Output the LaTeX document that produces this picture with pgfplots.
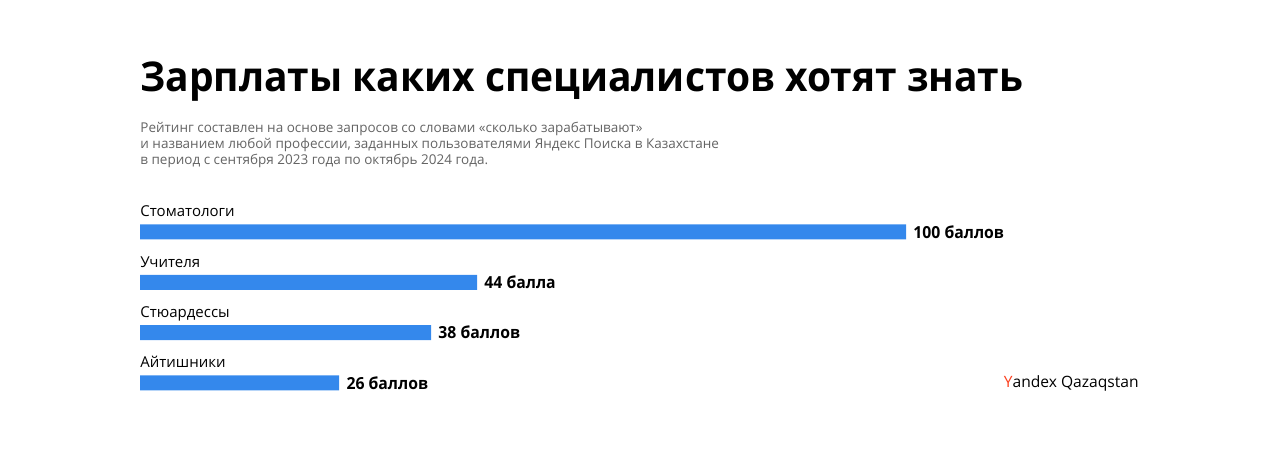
\documentclass[border=0pt]{standalone}
\usepackage{pgfplots}
\pgfplotsset{compat=1.18}
\usepackage{fontspec}
\setmainfont{Open Sans}
\definecolor{barblue}{RGB}{52,136,236}
\definecolor{subgray}{RGB}{100,100,100}
\definecolor{yred}{RGB}{252,63,29}
\begin{document}
\begin{tikzpicture}
\path[use as bounding box] (0,0) rectangle (640pt,-225.5pt);
\node[anchor=base west, inner sep=0, font=\fontsize{20.5}{24}\selectfont\bfseries] at (70pt,-45.5pt) {\scalebox{0.95}[1]{Зарплаты каких специалистов хотят знать}};
\node[anchor=base west, inner sep=0, font=\fontsize{6.75}{8}\selectfont, text=subgray] at (70pt,-66.3pt) {Рейтинг составлен на основе запросов со словами «сколько зарабатывают»};
\node[anchor=base west, inner sep=0, font=\fontsize{6.75}{8}\selectfont, text=subgray] at (70pt,-74.2pt) {и названием любой профессии, заданных пользователями Яндекс Поиска в Казахстане};
\node[anchor=base west, inner sep=0, font=\fontsize{6.75}{8}\selectfont, text=subgray] at (70pt,-82.1pt) {в период с сентября 2023 года по октябрь 2024 года.};
\node[anchor=base east, inner sep=0, font=\fontsize{7.8}{9}\selectfont] at (569.5pt,-193.5pt) {{\color{yred}Y}andex Qazaqstan};
\begin{axis}[
  at={(70pt,-103.4pt)}, anchor=north west,
  scale only axis, width=383pt, height=100.67pt,
  xmin=0, xmax=100, ymin=0.5, ymax=4.5, y dir=reverse,
  axis lines=none, clip=false,
  xbar, bar width=7.5pt, bar shift=0pt,
  nodes near coords={\scalebox{0.95}[1]{\pgfplotspointmeta}}, point meta=explicit symbolic,
  nodes near coords style={anchor=west, font=\fontsize{8.3}{10}\selectfont\bfseries, text=black, inner sep=0pt, xshift=3.5pt},
]
\addplot[fill=barblue, draw=none] coordinates {(100,1)[100 баллов] (44,2)[44 балла] (38,3)[38 баллов] (26,4)[26 баллов]};
\node[anchor=base west, inner sep=0, font=\fontsize{7.5}{9}\selectfont, yshift=7.5pt] at (axis cs:0,1) {Стоматологи};
\node[anchor=base west, inner sep=0, font=\fontsize{7.5}{9}\selectfont, yshift=7.5pt] at (axis cs:0,2) {Учителя};
\node[anchor=base west, inner sep=0, font=\fontsize{7.5}{9}\selectfont, yshift=7.5pt] at (axis cs:0,3) {Стюардессы};
\node[anchor=base west, inner sep=0, font=\fontsize{7.5}{9}\selectfont, yshift=7.5pt] at (axis cs:0,4) {Айтишники};
\end{axis}
\end{tikzpicture}
\end{document}
